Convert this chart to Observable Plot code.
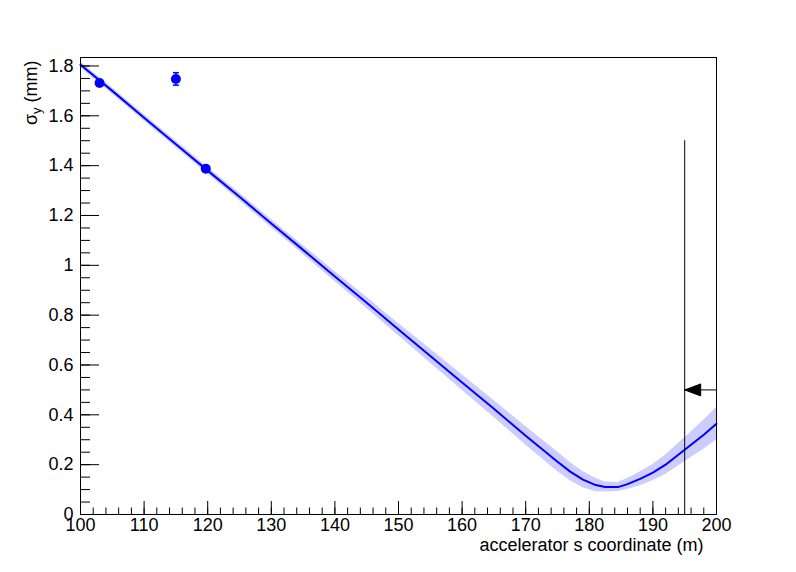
<!DOCTYPE html>
<html>
<head>
<meta charset="utf-8">
<script src="https://cdn.jsdelivr.net/npm/d3@7"></script>
<script src="https://cdn.jsdelivr.net/npm/@observablehq/plot@0.6"></script>
<style>
  html, body { margin: 0; padding: 0; background: #fff; }
</style>
</head>
<body>
<div id="chart"></div>
<script>
// Fitted beam-size curve (accelerator s coordinate in m, sigma_y in mm)
const sCurve =     [100, 105, 110, 115, 120, 125, 130, 135, 140, 145, 150, 155, 160, 165, 170, 175, 177, 179, 181, 182.5, 184.5, 186, 188, 190, 192, 194, 196, 198, 200];
const sigmaCurve = [1.805, 1.700, 1.592, 1.486, 1.380, 1.275, 1.168, 1.062, 0.955, 0.850, 0.742, 0.636, 0.530, 0.424, 0.316, 0.212, 0.172, 0.140, 0.118, 0.110, 0.110, 0.122, 0.143, 0.168, 0.200, 0.240, 0.280, 0.320, 0.364];
const sigmaBand =  [0.012, 0.012, 0.013, 0.013, 0.014, 0.015, 0.016, 0.018, 0.020, 0.022, 0.025, 0.028, 0.031, 0.034, 0.037, 0.039, 0.037, 0.033, 0.027, 0.020, 0.018, 0.022, 0.028, 0.033, 0.039, 0.045, 0.051, 0.058, 0.065];

// Measurements
const sMeas = [103.0, 115.0, 119.7];
const sigmaMeas = [1.732, 1.748, 1.388];
const sigmaMeasErr = [0.010, 0.025, 0.008];

// Marker line and arrow
const cutS = [195];
const cutTop = 1.5;
const arrowS = [200, 195];
const arrowSigma = 0.5;

// Axes
const xMajor = [100, 110, 120, 130, 140, 150, 160, 170, 180, 190, 200];
const xMajorLabels = ["100", "110", "120", "130", "140", "150", "160", "170", "180", "190", "200"];
const xMinor = d3.range(100, 200.1, 2);
const yMajor = [0, 0.2, 0.4, 0.6, 0.8, 1, 1.2, 1.4, 1.6, 1.8];
const yMajorLabels = ["0", "0.2", "0.4", "0.6", "0.8", "1", "1.2", "1.4", "1.6", "1.8"];
const yMinor = d3.range(0, 1.83, 0.05);
const xTitle = "accelerator s coordinate (m)";
const yTitle = "σy (mm)";

const curve = sCurve.map((s, i) => ({s, v: sigmaCurve[i], lo: sigmaCurve[i] - sigmaBand[i], hi: sigmaCurve[i] + sigmaBand[i]}));
const meas = sMeas.map((s, i) => ({s, v: sigmaMeas[i], lo: sigmaMeas[i] - sigmaMeasErr[i], hi: sigmaMeas[i] + sigmaMeasErr[i]}));

const W = 796, H = 572, mL = 80, mR = 80, mT = 57, mB = 58;
const frameW = W - mL - mR, frameH = H - mT - mB;
const FS = 18;

const capSymbol = {draw(ctx) { ctx.moveTo(-3, 0); ctx.lineTo(3, 0); }};
const arrowHead = {draw(ctx) { ctx.moveTo(0, 0); ctx.lineTo(16, -6); ctx.lineTo(16, 6); ctx.closePath(); }};

const chart = Plot.plot({
  width: W,
  height: H,
  marginLeft: mL,
  marginRight: mR,
  marginTop: mT,
  marginBottom: mB,
  style: {fontFamily: "'Liberation Sans', Arial, Helvetica, sans-serif", fontSize: FS + "px", background: "#fff", color: "#000"},
  x: {domain: [100, 200]},
  y: {domain: [0, 1.834]},
  marks: [
    Plot.areaY(curve, {x: "s", y1: "lo", y2: "hi", fill: "#ccccff", curve: "linear"}),
    Plot.line(curve, {x: "s", y: "v", stroke: "#0000ff", strokeWidth: 2}),
    Plot.ruleX(meas, {x: "s", y1: "lo", y2: "hi", stroke: "#0000ff", strokeWidth: 1.5}),
    Plot.dot(meas, {x: "s", y: "lo", symbol: capSymbol, stroke: "#0000ff", strokeWidth: 1.5}),
    Plot.dot(meas, {x: "s", y: "hi", symbol: capSymbol, stroke: "#0000ff", strokeWidth: 1.5}),
    Plot.dot(meas, {x: "s", y: "v", r: 5, fill: "#0000ff", stroke: "none"}),
    Plot.frame({stroke: "#000", strokeWidth: 1}),
    // ticks inside the frame
    Plot.ruleX(xMajor, {x: d => d, insetTop: frameH - 13, stroke: "#000"}),
    Plot.ruleX(xMinor, {x: d => d, insetTop: frameH - 6.5, stroke: "#000"}),
    Plot.ruleY(yMajor, {y: d => d, insetRight: frameW - 19, stroke: "#000"}),
    Plot.ruleY(yMinor, {y: d => d, insetRight: frameW - 10, stroke: "#000"}),
    Plot.axisX({ticks: xMajor, tickSize: 0, tickPadding: 4, label: null, fontSize: FS,
      tickFormat: d => xMajorLabels[xMajor.indexOf(d)]}),
    Plot.axisY({ticks: yMajor, tickSize: 0, tickPadding: 7, label: null, fontSize: FS,
      tickFormat: d => yMajorLabels[yMajor.indexOf(d)]}),
    // cut line and arrow
    Plot.ruleX(cutS, {x: d => d, y1: 0, y2: cutTop, stroke: "#000", strokeWidth: 1}),
    Plot.line(arrowS, {x: d => d, y: () => arrowSigma, stroke: "#000", strokeWidth: 1}),
    Plot.dot([arrowS[1]], {x: d => d, y: () => arrowSigma, symbol: arrowHead, fill: "#000", stroke: "#000", strokeWidth: 1}),
    // titles
    Plot.text([xTitle], {frameAnchor: "bottom-right", dx: -13, dy: 36, textAnchor: "end", fontSize: FS, fill: "#000"}),
    Plot.text([yTitle], {frameAnchor: "top-left", dx: -56, dy: 3, rotate: -90, textAnchor: "end", fontSize: FS, fill: "#000"})
  ]
});

document.getElementById("chart").appendChild(chart);

// subscript for sigma_y
for (const t of chart.querySelectorAll("text")) {
  if (t.textContent === yTitle) {
    t.textContent = "";
    const ns = "http://www.w3.org/2000/svg";
    t.appendChild(document.createTextNode("σ"));
    const sub = document.createElementNS(ns, "tspan");
    sub.setAttribute("font-size", "13");
    sub.setAttribute("dy", "4");
    sub.textContent = "y";
    t.appendChild(sub);
    const rest = document.createElementNS(ns, "tspan");
    rest.setAttribute("dy", "-4");
    rest.textContent = " (mm)";
    t.appendChild(rest);
  }
}
</script>
</body>
</html>
